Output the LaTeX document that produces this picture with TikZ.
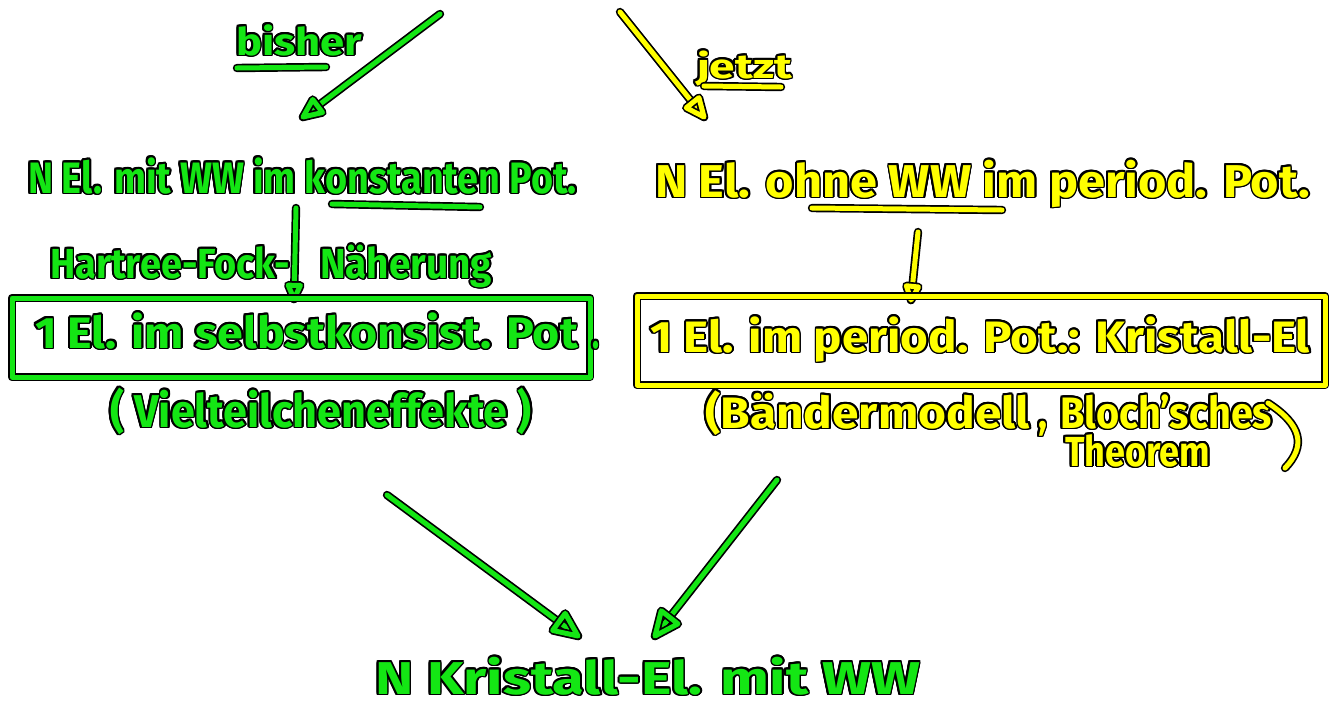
\documentclass[tikz,border=0pt]{standalone}
\usepackage{fontspec}
\setmainfont{Fira Sans}
\usepackage{graphicx}
\usetikzlibrary{calc}

\definecolor{inkgreen}{RGB}{20,230,20}
\definecolor{inkyellow}{RGB}{255,255,0}

% pen-like text: coloured letters with a thin black rim
\newdimen\inkhalo \inkhalo=1.7pt
\newcommand\inkcopy[2]{\rlap{\kern#1\raise#2\copy0}}
\newcommand\inktext[3]{\begingroup\setbox0\hbox{\resizebox{#2}{\height}{#3}}%
  \color{black}%
  \inkcopy{\inkhalo}{0pt}\inkcopy{-\inkhalo}{0pt}\inkcopy{0pt}{\inkhalo}\inkcopy{0pt}{-\inkhalo}%
  \inkcopy{.71\inkhalo}{.71\inkhalo}\inkcopy{-.71\inkhalo}{.71\inkhalo}%
  \inkcopy{.71\inkhalo}{-.71\inkhalo}\inkcopy{-.71\inkhalo}{-.71\inkhalo}%
  \inkcopy{.92\inkhalo}{.38\inkhalo}\inkcopy{-.92\inkhalo}{.38\inkhalo}%
  \inkcopy{.92\inkhalo}{-.38\inkhalo}\inkcopy{-.92\inkhalo}{-.38\inkhalo}%
  \inkcopy{.38\inkhalo}{.92\inkhalo}\inkcopy{-.38\inkhalo}{.92\inkhalo}%
  \inkcopy{.38\inkhalo}{-.92\inkhalo}\inkcopy{-.38\inkhalo}{-.92\inkhalo}%
  \color{#1}\box0\endgroup}

\tikzset{
  ink/.style={draw=black, line width=1.7pt, double=#1, double distance=5pt,
    line cap=round, line join=round},
  hand/.style={anchor=base west, inner sep=0pt, outer sep=0pt,
    font=\fontsize{#1}{#1}\selectfont\bfseries},
}

% shaft plus a hand-drawn triangular head
\newcommand\inkarrow[4]{%
  \draw[ink=#1] (#2) -- (#3);
  \draw[ink=#1] (#3) -- ($(#3)!#4!24:(#2)$) -- ($(#3)!#4!-24:(#2)$) -- cycle;
}

\begin{document}
\begin{tikzpicture}[x=1pt,y=-1pt]
\useasboundingbox[fill=white] (0,0) rectangle (1337,705);

% --- headings above the two branches
\node[hand=38] (bisher) at (236,55) {\inktext{inkgreen}{126pt}{bisher}};
\draw[ink=inkgreen] (237,68) -- (326,67);
\node[hand=34] (jetzt) at (697,78) {\inktext{inkyellow}{95pt}{jetzt}};
\draw[ink=inkyellow] (704,86) -- (781,87);

\coordinate (bisherTail) at (440,14);
\coordinate (bisherHead) at (303,117);
\coordinate (jetztTail) at (620,12);
\coordinate (jetztHead) at (704,117);
\inkarrow{inkgreen}{bisherTail}{bisherHead}{20pt}
\inkarrow{inkyellow}{jetztTail}{jetztHead}{20pt}

% --- first row
\node[hand=44] (links1) at (28,193) {\inktext{inkgreen}{549pt}{N El. mit WW im konstanten Pot.}};
\draw[ink=inkgreen] (332,204) -- (480,207);
\node[hand=46] (rechts1) at (655,197) {\inktext{inkyellow}{655pt}{N El. ohne WW im period. Pot.}};
\draw[ink=inkyellow] (812,208) -- (1002,210);

% --- Hartree-Fock step
\node[hand=42] (hf) at (50,278) {\inktext{inkgreen}{240pt}{Hartree-Fock-}};
\node[hand=42] (naeh) at (320,278) {\inktext{inkgreen}{172pt}{Näherung}};
\coordinate (hfTail) at (296,208);
\coordinate (hfHead) at (294,299);
\inkarrow{inkgreen}{hfTail}{hfHead}{15pt}

\coordinate (perTail) at (918,232);
\coordinate (perHead) at (911,300);
\inkarrow{inkyellow}{perTail}{perHead}{15pt}

% --- boxed one-electron problems
\node[ink=inkgreen, minimum width=578pt, minimum height=79pt, inner sep=0pt] (leftbox) at (301,337.5) {};
\node[hand=44] (box1) at (35,348) {\inktext{inkgreen}{543pt}{1 El. im selbstkonsist. Pot}};
\node[hand=44] (dot) at (592,348) {\inktext{inkgreen}{7pt}{.}};
\node[hand=46] (viel) at (110,427) {\inktext{inkgreen}{422pt}{( Vielteilcheneffekte )}};

\node[ink=inkyellow, minimum width=688pt, minimum height=89pt, inner sep=0pt] (rightbox) at (981,340.5) {};
\node[hand=44] (box2) at (650,352) {\inktext{inkyellow}{660pt}{1 El. im period. Pot.: Kristall-El}};
\node[hand=44] (baender) at (705,428) {\inktext{inkyellow}{325pt}{(Bändermodell}};
\node[hand=44] (komma) at (1038,428) {\inktext{inkyellow}{9pt}{,}};
\node[hand=44] (bloch) at (1060,428) {\inktext{inkyellow}{212pt}{Bloch'sches}};
\node[hand=42] (theorem) at (1065,466) {\inktext{inkyellow}{145pt}{Theorem}};
\draw[ink=inkyellow] (1268,403) .. controls (1302,425) and (1306,446) .. (1285,468);

% --- merging into the final problem
\coordinate (leftTail) at (387,495);
\coordinate (leftHead) at (578,636);
\coordinate (rightTail) at (777,480);
\coordinate (rightHead) at (655,636);
\inkarrow{inkgreen}{leftTail}{leftHead}{26pt}
\inkarrow{inkgreen}{rightTail}{rightHead}{26pt}

\node[hand=46] (unten) at (375,694) {\inktext{inkgreen}{545pt}{N Kristall-El. mit WW}};
\end{tikzpicture}
\end{document}
